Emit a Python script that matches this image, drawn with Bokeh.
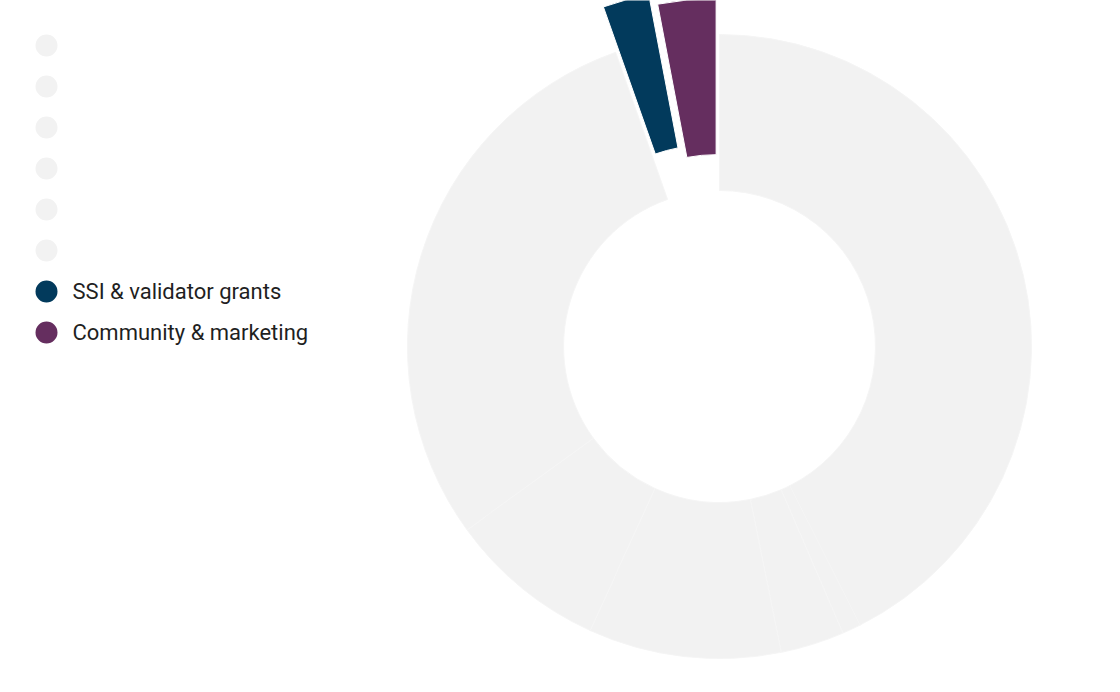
import numpy as np
from bokeh.plotting import figure
from bokeh.models import ColumnDataSource, Range1d
from bokeh.core.properties import value
from bokeh.embed import file_html
from bokeh.resources import INLINE

# ---- data ----
labels = ["", "", "", "", "", "", "SSI & validator grants", "Community & marketing"]
shares = [42.56, 0.97, 3.3, 9.97, 8.2, 29.6, 2.4, 3.0]

# ---- styles ----
colors = ["#f2f2f2"] * 6 + ["#023a5c", "#652e5f"]
slice_offsets = [0, 0, 0, 0, 0, 0, 47, 36]
edge_colors = ["#f5f5f5"] * 6 + ["white", "white"]

# ---- layout ----
W, H = 1120, 692
cx, cy = 719, H - 346
r_in, r_out = 156, 312

p = figure(width=W, height=H, output_backend="svg", toolbar_location=None,
           x_range=Range1d(0, W), y_range=Range1d(0, H), min_border=0)
p.axis.visible = False
p.grid.visible = False
p.outline_line_color = None
p.background_fill_color = "white"
p.border_fill_color = "white"

vals = np.array(shares, dtype=float)
frac = vals / vals.sum()
cum = np.concatenate([[0], np.cumsum(frac)]) * 2 * np.pi  # clockwise from 12 o'clock
t1, t2 = cum[:-1], cum[1:]
start = np.pi / 2 - t2
end = np.pi / 2 - t1
mid = (t1 + t2) / 2
off = np.array(slice_offsets, dtype=float)
xs = cx + off * np.sin(mid)
ys = cy + off * np.cos(mid)

src = ColumnDataSource(dict(x=xs, y=ys, start=start, end=end, color=colors,
                            lc=edge_colors))
p.annular_wedge(x="x", y="y", inner_radius=r_in, outer_radius=r_out,
                start_angle="start", end_angle="end", fill_color="color",
                line_color="lc", line_width=1, source=src, direction="anticlock")

# ---- legend ----
n = len(labels)
ly = H - (45 + 41 * np.arange(n))
lsrc = ColumnDataSource(dict(x=[46] * n, y=ly, color=colors, tx=[72] * n,
                             ty=ly, label=labels))
p.scatter(x="x", y="y", size=22, marker="circle", fill_color="color",
          line_color=None, source=lsrc)
p.text(x="tx", y="ty", text="label", source=lsrc, text_font=value("Roboto"),
       text_font_size="22px", text_color="#1f1f1f", text_baseline="middle",
       text_align="left")

open("out.html", "w").write(file_html(p, INLINE))
